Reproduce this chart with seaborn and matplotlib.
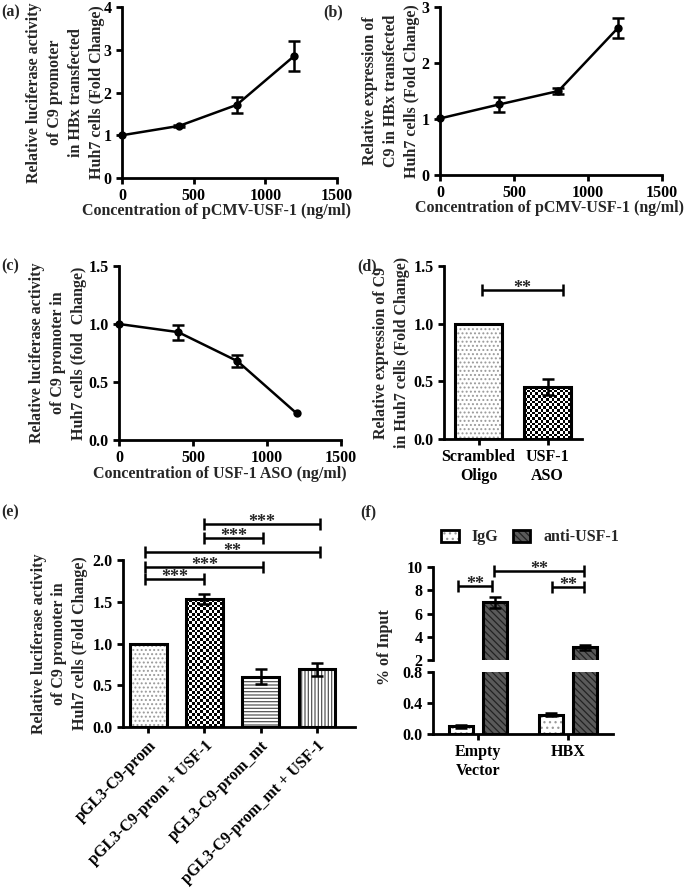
import numpy as np
import pandas as pd
import seaborn as sns
import matplotlib.pyplot as plt
from matplotlib.patches import Rectangle, Patch
from matplotlib.ticker import FormatStrFormatter

sns.set_theme(style='ticks')
plt.rcParams['font.family'] = ['Liberation Serif', 'DejaVu Serif']
plt.rcParams['font.weight'] = 'bold'
plt.rcParams['axes.labelweight'] = 'bold'
plt.rcParams['font.size'] = 11.5
plt.rcParams['axes.labelsize'] = 11.5
plt.rcParams['xtick.labelsize'] = 11.5
plt.rcParams['ytick.labelsize'] = 11.5
plt.rcParams['axes.linewidth'] = 2
plt.rcParams['xtick.major.width'] = 2
plt.rcParams['ytick.major.width'] = 2
plt.rcParams['xtick.major.size'] = 4
plt.rcParams['ytick.major.size'] = 4
plt.rcParams['xtick.color'] = 'black'
plt.rcParams['ytick.color'] = 'black'
plt.rcParams['axes.edgecolor'] = 'black'
plt.rcParams['hatch.linewidth'] = 0.9

# data
conc = [0, 400, 800, 1200]
a_fold = [1.00, 1.22, 1.71, 2.85]
a_sem = [0.00, 0.02, 0.18, 0.35]
b_fold = [1.01, 1.26, 1.50, 2.62]
b_sem = [0.00, 0.13, 0.06, 0.18]
c_fold = [1.00, 0.93, 0.68, 0.23]
c_sem = [0.00, 0.065, 0.05, 0.00]

d_groups = ['Scrambled\nOligo', 'USF-1\nASO']
d_fold = [1.00, 0.45]
d_sem = [0.00, 0.07]

e_groups = ['pGL3-C9-prom', 'pGL3-C9-prom + USF-1', 'pGL3-C9-prom_mt',
            'pGL3-C9-prom_mt + USF-1']
e_fold = [1.00, 1.53, 0.60, 0.69]
e_sem = [0.00, 0.06, 0.09, 0.08]

f_groups = ['Empty\nVector', 'HBX']
f_ab = ['IgG', 'anti-USF-1']
f_igg = [0.10, 0.25]
f_igg_sem = [0.02, 0.02]
f_anti = [6.95, 3.10]
f_anti_sem = [0.45, 0.22]

W, H = 685, 888
fig = plt.figure(figsize=(W / 100, H / 100), dpi=100)


def rect(l, t, r, b):
    return [l / W, 1 - b / H, (r - l) / W, (b - t) / H]


LW = 1.8
LS = 1.4


def caps(ax, x, y, err, **kw):
    x = [xi for xi, e in zip(x, err) if e > 0]
    yy = [yi for yi, e in zip(y, err) if e > 0]
    ee = [e for e in err if e > 0]
    ax.errorbar(x, yy, yerr=ee, fmt='none', ecolor='black', elinewidth=LW,
                capsize=4, capthick=LW, zorder=4, **kw)


def line_panel(ax, y, err, ylim, yticks, fmt):
    df = pd.DataFrame({'conc': conc, 'fold': y})
    sns.lineplot(data=df, x='conc', y='fold', ax=ax, color='black', lw=LW,
                 marker='o', markersize=6, markeredgewidth=0, clip_on=False)
    caps(ax, conc, y, err)
    ax.set_xlim(0, 1500)
    ax.set_ylim(*ylim)
    ax.set_xticks([0, 500, 1000, 1500])
    ax.set_yticks(yticks)
    ax.yaxis.set_major_formatter(FormatStrFormatter(fmt))
    sns.despine(ax=ax)


def outline(ax, p):
    ax.add_patch(Rectangle(p.get_xy(), p.get_width(), p.get_height(),
                           fill=False, ec='black', lw=2.2,
                           zorder=p.get_zorder() + 0.2))


def hatched(ax, p, hatch, hcolor, fc='white'):
    p.set_facecolor(fc)
    p.set_edgecolor(hcolor)
    p.set_hatch(hatch)
    p.set_linewidth(0)
    outline(ax, p)


def checker(ax, p, cell=2.8):
    x0, y0 = p.get_xy()
    w, h = p.get_width(), p.get_height()
    q0, q1 = ax.transData.transform([(x0, y0), (x0 + w, y0 + h)])
    nx = max(1, int(round((q1[0] - q0[0]) / cell)))
    ny = max(1, int(round((q1[1] - q0[1]) / cell)))
    arr = np.add.outer(np.arange(ny), np.arange(nx)) % 2
    im = ax.imshow(arr, extent=(x0, x0 + w, y0, y0 + h), cmap='gray',
                   vmin=0, vmax=1, interpolation='nearest', aspect='auto',
                   origin='lower', zorder=p.get_zorder() + 0.1)
    im.set_clip_path(p)
    p.set_facecolor('none')
    p.set_linewidth(0)
    outline(ax, p)


def bracket(ax, x1, x2, y, text):
    c = ax.errorbar([(x1 + x2) / 2], [y], xerr=[(x2 - x1) / 2], fmt='none',
                    ecolor='black', elinewidth=LW, capsize=4, capthick=LW)
    for ch in c.get_children():
        ch.set_clip_on(False)
    ax.annotate(text, xy=((x1 + x2) / 2, y), xytext=(0, -2.2),
                textcoords='offset points', ha='center', va='baseline',
                fontsize=13, fontweight='bold', annotation_clip=False)


# (a)
ax_a = fig.add_axes(rect(122, 7, 337, 178))
line_panel(ax_a, a_fold, a_sem, (0, 4), [0, 1, 2, 3, 4], '%d')
ax_a.set_xlabel('Concentration of pCMV-USF-1 (ng/ml)')
ax_a.set_ylabel('Relative luciferase activity\nof C9 promoter\n'
                'in HBx transfected\nHuh7 cells (Fold Change)',
                multialignment='center', linespacing=LS)
ax_a.xaxis.set_label_coords(0.44, -0.145)
ax_a.yaxis.set_label_coords(-0.08, 0.5)

# (b)
ax_b = fig.add_axes(rect(440, 7, 662, 175))
line_panel(ax_b, b_fold, b_sem, (0, 3), [0, 1, 2, 3], '%d')
ax_b.set_xlabel('Concentration of pCMV-USF-1 (ng/ml)')
ax_b.set_ylabel('Relative expression of\nC9 in HBx transfected\n'
                'Huh7 cells (Fold Change)',
                multialignment='center', linespacing=LS)
ax_b.xaxis.set_label_coords(0.495, -0.15)
ax_b.yaxis.set_label_coords(-0.09, 0.5)

# (c)
ax_c = fig.add_axes(rect(119, 266, 341, 440))
line_panel(ax_c, c_fold, c_sem, (0, 1.5), [0, 0.5, 1.0, 1.5], '%.1f')
ax_c.set_xlabel('Concentration of USF-1 ASO (ng/ml)')
ax_c.set_ylabel('Relative luciferase activity\nof C9 promoter in\n'
                'Huh7 cells (fold  Change)',
                multialignment='center', linespacing=LS)
ax_c.xaxis.set_label_coords(0.455, -0.15)
ax_c.yaxis.set_label_coords(-0.145, 0.5)

# (d)
ax_d = fig.add_axes(rect(444, 266, 582, 439))
sns.barplot(x=d_groups, y=d_fold, ax=ax_d, width=0.67, color='white',
            edgecolor='black', linewidth=2)
ax_d.set_xlim(-0.5, 1.5)
ax_d.set_ylim(0, 1.5)
ax_d.set_yticks([0, 0.5, 1.0, 1.5])
ax_d.yaxis.set_major_formatter(FormatStrFormatter('%.1f'))
bars = list(ax_d.patches)
hatched(ax_d, bars[0], '....', '#9a9a9a')
checker(ax_d, bars[1])
caps(ax_d, [b.get_x() + b.get_width() / 2 for b in bars], d_fold, d_sem)
bracket(ax_d, 0.05, 1.22, 1.29, '**')
ax_d.set_ylabel('Relative expression of C9\nin Huh7 cells (Fold Change)',
                multialignment='center', linespacing=LS)
ax_d.yaxis.set_label_coords(-0.25, 0.5)
sns.despine(ax=ax_d)

# (e)
ax_e = fig.add_axes(rect(123, 560, 355, 727))
sns.barplot(x=e_groups, y=e_fold, ax=ax_e, width=0.65, color='white',
            edgecolor='black', linewidth=2)
ax_e.set_xlim(-0.45, 3.68)
ax_e.set_ylim(0, 2.0)
ax_e.set_yticks([0, 0.5, 1.0, 1.5, 2.0])
ax_e.yaxis.set_major_formatter(FormatStrFormatter('%.1f'))
bars = list(ax_e.patches)
hatched(ax_e, bars[0], '....', '#9a9a9a')
checker(ax_e, bars[1])
hatched(ax_e, bars[2], '-----', '#555555')
hatched(ax_e, bars[3], '|||||', '#555555')
caps(ax_e, [b.get_x() + b.get_width() / 2 for b in bars], e_fold, e_sem)
bracket(ax_e, -0.05, 1.0, 1.77, '***')
bracket(ax_e, -0.05, 2.05, 1.92, '***')
bracket(ax_e, -0.05, 3.05, 2.09, '**')
bracket(ax_e, 1.0, 2.05, 2.26, '***')
bracket(ax_e, 1.0, 3.05, 2.43, '***')
for t in ax_e.get_xticklabels():
    t.set_rotation(45)
    t.set_ha('right')
    t.set_rotation_mode('anchor')
ax_e.set_ylabel('Relative luciferase activity\nof C9 promoter in\n'
                'Huh7 cells (Fold Change)',
                multialignment='center', linespacing=LS)
ax_e.yaxis.set_label_coords(-0.15, 0.5)
sns.despine(ax=ax_e)

# (f) broken axis
df_f = pd.DataFrame({
    'group': f_groups * 2,
    'ab': [f_ab[0]] * 2 + [f_ab[1]] * 2,
    'pct': f_igg + f_anti,
    'sem': f_igg_sem + f_anti_sem,
})
ax_ft = fig.add_axes(rect(433, 567, 613, 660))
ax_fb = fig.add_axes(rect(433, 672, 613, 734))
for ax, lim, ticks, fmt in [(ax_ft, (2, 10), [2, 4, 6, 8, 10], '%d'),
                            (ax_fb, (0, 0.8), [0, 0.4, 0.8], '%.1f')]:
    sns.barplot(data=df_f, x='group', y='pct', hue='ab', ax=ax, width=0.76,
                gap=0.29, palette=['white', '#555555'], edgecolor='black',
                linewidth=2, legend=False)
    ax.set_xlim(-0.5, 1.5)
    ax.set_ylim(*lim)
    ax.set_yticks(ticks)
    ax.yaxis.set_major_formatter(FormatStrFormatter(fmt))
    bars = list(ax.patches)
    for b, ab in zip(bars, df_f['ab']):
        if ab == 'IgG':
            hatched(ax, b, '...', '#9a9a9a')
        else:
            hatched(ax, b, '\\\\\\\\\\', '#222222', fc='#5a5a5a')
    caps(ax, [b.get_x() + b.get_width() / 2 for b in bars],
         list(df_f['pct']), list(df_f['sem']))
    ax.set_xlabel('')
    ax.set_ylabel('')
    sns.despine(ax=ax)
ax_ft.spines['bottom'].set_visible(False)
ax_ft.tick_params(axis='x', bottom=False, labelbottom=False)
bracket(ax_ft, -0.22, 0.15, 8.4, '**')
bracket(ax_ft, 0.18, 1.18, 9.66, '**')
bracket(ax_ft, 0.82, 1.18, 8.31, '**')
leg_h = [(Patch(fc='white', ec='#9a9a9a', hatch='...', lw=0),
          Patch(fill=False, ec='black', lw=2)),
         (Patch(fc='#5a5a5a', ec='#222222', hatch='\\\\\\\\\\', lw=0),
          Patch(fill=False, ec='black', lw=2))]
ax_ft.legend(leg_h, f_ab, loc='center', bbox_to_anchor=(0.54, 1.32),
             ncol=2, frameon=False, handlelength=1.1, handleheight=0.8,
             columnspacing=0.9, handletextpad=0.8, borderpad=0,
             prop={'weight': 'bold', 'size': 11.5})
fig.text(385, H - 647, '% of Input', rotation=90, ha='center', va='center',
         fontweight='bold', fontsize=11.5, transform=None)

# panel letters
for lab, x, y in [('(a)', 1, 12), ('(b)', 323, 12), ('(c)', 1, 266),
                  ('(d)', 357, 266), ('(e)', 1, 512), ('(f)', 360, 512)]:
    fig.text(x / W, 1 - y / H, lab, ha='left', va='center',
             fontweight='bold', fontsize=11.5)

fig.savefig('out.png', dpi=100)
